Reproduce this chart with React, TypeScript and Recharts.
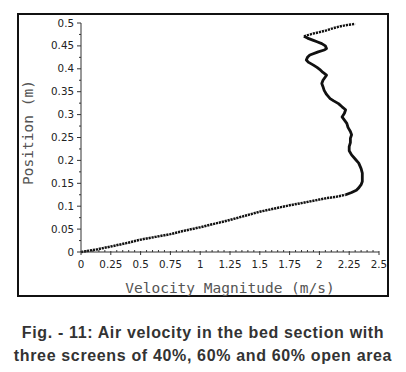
import { LineChart, Line, XAxis, YAxis } from 'recharts';

// velocity magnitude (m/s) read along the profile, bottom to top
const velocity = [
  0, 0.12, 0.25, 0.375, 0.5, 0.625, 0.75, 0.875, 1.0, 1.125, 1.25, 1.375, 1.5, 1.625, 1.75,
  1.875, 2.0, 2.06, 2.1, 2.15, 2.22, 2.27, 2.31, 2.33, 2.35, 2.36, 2.36, 2.36, 2.35, 2.33,
  2.3, 2.27, 2.25, 2.25, 2.26, 2.26, 2.27, 2.26, 2.24, 2.23, 2.21, 2.19, 2.21, 2.22, 2.19,
  2.16, 2.12, 2.09, 2.06, 2.04, 2.03, 2.02, 2.03, 2.06, 2.03, 2.01, 1.98, 1.95, 1.91, 1.89,
  1.9, 1.92, 1.99, 2.04, 2.06, 2.05, 2.02, 1.98, 1.95, 1.9, 1.87, 1.91, 1.95, 2.0, 2.06,
  2.12, 2.18, 2.24, 2.3,
];

// position (m) matching each velocity reading
const position = [
  0, 0.005, 0.012, 0.019, 0.027, 0.033, 0.039, 0.047, 0.054, 0.062, 0.07, 0.079, 0.088, 0.095, 0.102,
  0.108, 0.1145, 0.1176, 0.119, 0.121, 0.125, 0.13, 0.135, 0.14, 0.147, 0.154, 0.163, 0.172, 0.182, 0.194,
  0.203, 0.212, 0.221, 0.23, 0.239, 0.248, 0.256, 0.263, 0.272, 0.281, 0.288, 0.295, 0.303, 0.3106, 0.317,
  0.324, 0.33, 0.335, 0.344, 0.353, 0.361, 0.368, 0.375, 0.386, 0.392, 0.397, 0.403, 0.408, 0.414, 0.419,
  0.425, 0.43, 0.437, 0.441, 0.444, 0.45, 0.455, 0.459, 0.462, 0.467, 0.471, 0.474, 0.477, 0.48, 0.484,
  0.489, 0.493, 0.496, 0.498,
];

const xMajor = [0, 0.25, 0.5, 0.75, 1, 1.25, 1.5, 1.75, 2, 2.25, 2.5];
const xLabels = ['0', '0.25', '0.5', '0.75', '1', '1.25', '1.5', '1.75', '2', '2.25', '2.5'];
const yMajor = [0, 0.05, 0.1, 0.15, 0.2, 0.25, 0.3, 0.35, 0.4, 0.45, 0.5];
const yLabels = ['0', '0.05', '0.1', '0.15', '0.2', '0.25', '0.3', '0.35', '0.4', '0.45', '0.5'];

// sparse stretches (the linear rise and the last sweep at the top) are drawn beaded,
// the dense wavy part in between as a heavy trace
const LOW_END = 0.125;
const TOP_START = 0.471;
const data = velocity.map((v, i) => {
  const p = position[i];
  return {
    v,
    low: p <= LOW_END ? p : null,
    mid: p >= LOW_END && p <= TOP_START ? p : null,
    top: p >= TOP_START ? p : null,
  };
});

// majors plus evenly spaced minor ticks between them
function withMinor(major: number[], parts: number) {
  const out: number[] = [];
  major.forEach((m, i) => {
    out.push(m);
    if (i < major.length - 1) {
      const step = (major[i + 1] - m) / parts;
      for (let k = 1; k < parts; k++) out.push(+(m + k * step).toFixed(4));
    }
  });
  return out;
}

const xTicks = withMinor(xMajor, 5);
const yTicks = withMinor(yMajor, 2);

const AXIS = '#333';
const tickFont = { fontFamily: '"DejaVu Sans", sans-serif', fontSize: 10.3, fill: '#222' };
const titleFont = { fontFamily: '"DejaVu Sans Mono", monospace', fontSize: 14.5, fill: '#555' };

function labelFor(value: number, major: number[], labels: string[]) {
  const i = major.findIndex((m) => Math.abs(m - value) < 1e-6);
  return i >= 0 ? labels[i] : null;
}

function XTick({ x, y, payload }: any) {
  const label = labelFor(payload.value, xMajor, xLabels);
  if (label === null) {
    return <line x1={x} x2={x} y1={y} y2={y - 2} stroke={AXIS} strokeWidth={1} />;
  }
  return (
    <g>
      <line x1={x} x2={x} y1={y - 1} y2={y + 3} stroke={AXIS} strokeWidth={1} />
      <text x={x} y={y + 16} textAnchor="middle" {...tickFont}>
        {label}
      </text>
    </g>
  );
}

function YTick({ x, y, payload }: any) {
  const label = labelFor(payload.value, yMajor, yLabels);
  if (label === null) {
    return <line x1={x - 2} x2={x} y1={y} y2={y} stroke={AXIS} strokeWidth={1} />;
  }
  return (
    <g>
      <line x1={x - 4} x2={x} y1={y} y2={y} stroke={AXIS} strokeWidth={1} />
      <text x={x - 7} y={y + 3.5} textAnchor="end" {...tickFont}>
        {label}
      </text>
    </g>
  );
}

function XTitle({ viewBox }: any) {
  const vb = viewBox ?? { x: 81, y: 252, width: 298 };
  return (
    <text x={vb.x + vb.width / 2} y={vb.y + 40.5} textAnchor="middle" {...titleFont}>
      Velocity Magnitude (m/s)
    </text>
  );
}

function YTitle({ viewBox }: any) {
  const vb = viewBox ?? { x: 21, y: 23, height: 229 };
  const cx = vb.x + 12;
  const cy = vb.y + vb.height / 2 - 5;
  return (
    <text x={cx} y={cy} textAnchor="middle" transform={`rotate(-90 ${cx} ${cy})`} {...titleFont}>
      Position (m)
    </text>
  );
}

export default function App() {
  return (
    <div style={{ position: 'absolute', left: 0, top: 0, width: 406, height: 372, background: '#fff' }}>
      <div
        style={{
          position: 'absolute',
          left: 17,
          top: 13,
          width: 372,
          height: 284,
          boxSizing: 'border-box',
          border: '2px solid #111',
        }}
      />
      <div style={{ position: 'absolute', left: 0, top: 0 }}>
        <LineChart width={406} height={300} data={data} margin={{ top: 23, right: 27, left: 21, bottom: 18 }}>
          <XAxis
            dataKey="v"
            type="number"
            domain={[0, 2.5]}
            ticks={xTicks}
            interval={0}
            tickSize={0}
            tickMargin={0}
            tickLine={false}
            tick={<XTick />}
            height={30}
            axisLine={{ stroke: AXIS, strokeWidth: 1 }}
            label={<XTitle />}
          />
          <YAxis
            type="number"
            domain={[0, 0.5]}
            ticks={yTicks}
            interval={0}
            tickSize={0}
            tickMargin={0}
            tickLine={false}
            tick={<YTick />}
            width={60}
            axisLine={{ stroke: AXIS, strokeWidth: 1 }}
            label={<YTitle />}
          />
          <Line
            type="linear"
            dataKey="low"
            stroke="#111"
            strokeWidth={2.5}
            strokeDasharray="2.2 0.8"
            dot={false}
            connectNulls={false}
            isAnimationActive={false}
          />
          <Line
            type="linear"
            dataKey="mid"
            stroke="#111"
            strokeWidth={2.8}
            strokeLinejoin="round"
            dot={false}
            connectNulls={false}
            isAnimationActive={false}
          />
          <Line
            type="linear"
            dataKey="top"
            stroke="#111"
            strokeWidth={2.4}
            strokeDasharray="2.2 0.9"
            dot={false}
            connectNulls={false}
            isAnimationActive={false}
          />
        </LineChart>
      </div>
      <div
        style={{
          position: 'absolute',
          left: 0,
          top: 321,
          width: 406,
          textAlign: 'center',
          fontFamily: '"Liberation Sans", Arial, sans-serif',
          fontWeight: 'bold',
          fontSize: 16,
          letterSpacing: '0.65px',
          lineHeight: '23px',
          color: '#333',
        }}
      >
        <div>Fig. - 11: Air velocity in the bed section with</div>
        <div>three screens of 40%, 60% and 60% open area</div>
      </div>
    </div>
  );
}
